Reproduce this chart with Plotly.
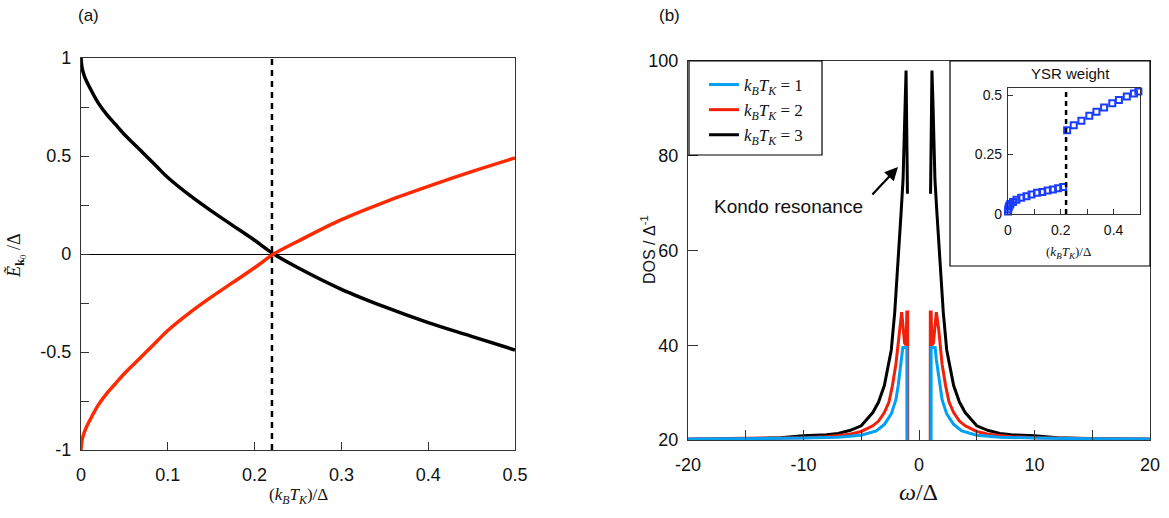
import plotly.graph_objects as go

# ---------- panel (a): YSR bound-state energies vs Kondo temperature ----------
kT_a = [0, 0.001, 0.003, 0.006, 0.01, 0.02, 0.03, 0.04, 0.05, 0.0625, 0.075, 0.0875, 0.1,
        0.125, 0.15, 0.175, 0.2, 0.222, 0.25, 0.3, 0.35, 0.4, 0.45, 0.5]
E_upper = [1.0, 0.955, 0.92, 0.885, 0.85, 0.77, 0.71, 0.66, 0.61, 0.555, 0.50, 0.445, 0.39,
           0.30, 0.22, 0.145, 0.07, 0.0, -0.07, -0.18, -0.27, -0.35, -0.42, -0.49]
E_lower = [-1.0, -0.955, -0.92, -0.885, -0.85, -0.77, -0.71, -0.66, -0.61, -0.555, -0.50, -0.445, -0.39,
           -0.30, -0.22, -0.145, -0.07, 0.0, 0.065, 0.175, 0.265, 0.345, 0.42, 0.49]
kT_crossing = 0.22

a_xticks = [0, 0.1, 0.2, 0.3, 0.4, 0.5]
a_xticklabels = ["0", "0.1", "0.2", "0.3", "0.4", "0.5"]
a_yticks = [-1, -0.75, -0.5, -0.25, 0, 0.25, 0.5, 0.75, 1]
a_yticklabels = ["-1", "", "-0.5", "", "0", "", "0.5", "", "1"]

# ---------- panel (b): DOS for three Kondo temperatures (positive-omega half) ----------
w_kT1 = [0, 1.04, 1.05, 1.2, 1.4, 1.5, 1.8, 2.0, 2.4, 3.0, 3.7, 5.0, 7.0, 10.0, 15.0, 20.0]
dos_kT1 = [0, 0, 39.5, 39.5, 39.5, 37, 31.5, 28.5, 25.5, 23.3, 21.9, 21.0, 20.6, 20.4, 20.25, 20.2]

w_kT2 = [0, 0.97, 0.98, 1.05, 1.12, 1.25, 1.5, 1.7, 2.0, 2.3, 2.6, 3.0, 3.5, 4.0, 5.0, 6.0, 8.0, 10.0, 15.0, 20.0]
dos_kT2 = [0, 0, 47, 47, 40, 40.5, 47, 43.5, 36, 31.5, 28, 25.8, 24, 23, 21.8, 21.2, 20.7, 20.5, 20.3, 20.2]

w_kT3 = [1.0, 1.12, 1.2, 1.38, 1.55, 1.76, 2.1, 2.4, 3.0, 3.5, 4.0, 5.0, 6.0, 7.0, 8.0, 10.0, 12.0, 15.0, 20.0]
dos_kT3 = [72, 98, 92, 75, 68, 59, 47, 39, 31.5, 28, 25.8, 23, 22, 21.4, 21.1, 20.9, 20.5, 20.25, 20.1]

b_xticks = [-20, -15, -10, -5, 0, 5, 10, 15, 20]
b_xticklabels = ["-20", "", "-10", "", "0", "", "10", "", "20"]
b_yticks = [20, 40, 60, 80, 100]
b_yticklabels = ["20", "40", "60", "80", "100"]

# ---------- inset: YSR spectral weight ----------
kT_ysr = [0, 0.001, 0.003, 0.006, 0.009, 0.019, 0.032, 0.05, 0.07, 0.089, 0.11, 0.13, 0.15, 0.17, 0.19, 0.209,
          0.224, 0.249, 0.278, 0.308, 0.335, 0.364, 0.395, 0.42, 0.45, 0.477, 0.494]
weight_ysr = [0.011, 0.02, 0.03, 0.036, 0.042, 0.05, 0.06, 0.068, 0.075, 0.082, 0.089, 0.093, 0.099, 0.103, 0.108, 0.114,
              0.352, 0.373, 0.392, 0.413, 0.43, 0.448, 0.466, 0.48, 0.494, 0.507, 0.515]
ins_xticks = [0, 0.1, 0.2, 0.3, 0.4, 0.5]
ins_xticklabels = ["0", "", "0.2", "", "0.4", ""]
ins_yticks = [0, 0.25, 0.5]
ins_yticklabels = ["0", "0.25", "0.5"]


def mirrored(w, d):
    """Build the full symmetric curve from its positive-omega half."""
    return [-v for v in reversed(w)] + list(w), list(reversed(d)) + list(d)


W, H = 1169, 518


def px(x):
    return x / W


def py(y):
    return (H - y) / H


SANS = "Liberation Sans, Arial, Helvetica, sans-serif"
SERIF = "Liberation Serif, Times New Roman, DejaVu Serif, serif"
AX = "#333333"
RED_A = "#ff2a00"
RED_B = "#f0200a"
BLUE_B = "#00a0f5"
BLUE_INS = "#1a3cff"

fig = go.Figure()

# panel (a)
fig.add_trace(go.Scatter(x=kT_a, y=E_upper, mode="lines", line=dict(color="black", width=3.5, shape="spline", smoothing=1.0),
                         xaxis="x", yaxis="y", showlegend=False))
fig.add_trace(go.Scatter(x=kT_a, y=E_lower, mode="lines", line=dict(color=RED_A, width=3.5, shape="spline", smoothing=1.0),
                         xaxis="x", yaxis="y", showlegend=False))

# panel (b): black drawn first, blue on top
w3n = [-v for v in reversed(w_kT3)]
d3n = list(reversed(dos_kT3))
fig.add_trace(go.Scatter(x=w3n + [None] + w_kT3, y=d3n + [None] + dos_kT3, mode="lines",
                         line=dict(color="black", width=3), xaxis="x2", yaxis="y2",
                         name="<i>k<sub>B</sub>T<sub>K</sub></i> = 3"))
w2, d2 = mirrored(w_kT2, dos_kT2)
fig.add_trace(go.Scatter(x=w2, y=d2, mode="lines", line=dict(color=RED_B, width=3), xaxis="x2", yaxis="y2",
                         name="<i>k<sub>B</sub>T<sub>K</sub></i> = 2"))
w1, d1 = mirrored(w_kT1, dos_kT1)
fig.add_trace(go.Scatter(x=w1, y=d1, mode="lines", line=dict(color=BLUE_B, width=3), xaxis="x2", yaxis="y2",
                         name="<i>k<sub>B</sub>T<sub>K</sub></i> = 1"))

# inset
fig.add_trace(go.Scatter(x=kT_ysr, y=weight_ysr, mode="markers",
                         marker=dict(symbol="square-open", size=6, color=BLUE_INS, line=dict(width=2, color=BLUE_INS)),
                         xaxis="x3", yaxis="y3", showlegend=False, cliponaxis=False))

tickfont = dict(family=SANS, size=18, color="#111")
small_tickfont = dict(family=SANS, size=14, color="#111")
common = dict(showline=True, linecolor=AX, linewidth=1.2, mirror=True, ticks="inside", tickcolor=AX,
              showgrid=False, zeroline=False, automargin=False)

fig.update_layout(
    width=W, height=H, autosize=False,
    margin=dict(l=0, r=0, t=0, b=0, autoexpand=False),
    paper_bgcolor="white", plot_bgcolor="rgba(0,0,0,0)",
    xaxis=dict(domain=[px(81), px(515)], range=[0, 0.5], tickvals=a_xticks, ticktext=a_xticklabels,
               ticklen=8, anchor="y", tickfont=tickfont, ticklabelstandoff=8, **common),
    yaxis=dict(domain=[py(450), py(58)], range=[-1, 1], tickvals=a_yticks, ticktext=a_yticklabels,
               ticklen=8, anchor="x", tickfont=tickfont, ticklabelstandoff=5, **{**common, "zeroline": True},
               zerolinecolor="black", zerolinewidth=1),
    xaxis2=dict(domain=[px(688), px(1150)], range=[-20, 20], tickvals=b_xticks, ticktext=b_xticklabels,
                ticklen=10, anchor="y2", tickfont=tickfont, ticklabelstandoff=8, **common),
    yaxis2=dict(domain=[py(440), py(61)], range=[20, 100], tickvals=b_yticks, ticktext=b_yticklabels,
                ticklen=10, anchor="x2", tickfont=tickfont, ticklabelstandoff=5, **common),
    xaxis3=dict(domain=[px(1008), px(1140)], range=[0, 0.5], tickvals=ins_xticks, ticktext=ins_xticklabels,
                ticklen=5, anchor="y3", tickfont=small_tickfont, ticklabelstandoff=3, **common),
    yaxis3=dict(domain=[py(214), py(88)], range=[0, 0.53], tickvals=ins_yticks, ticktext=ins_yticklabels,
                ticklen=5, anchor="x3", tickfont=small_tickfont, ticklabelstandoff=2, **common),
    legend=dict(x=px(704), y=py(67), xanchor="left", yanchor="top", traceorder="reversed",
                bgcolor="rgba(0,0,0,0)", borderwidth=0,
                font=dict(family=SERIF, size=17, color="#111"), itemwidth=30),
)

# dashed markers of the crossing point
fig.add_shape(type="line", xref="x", yref="y", x0=kT_crossing, x1=kT_crossing, y0=-1, y1=1,
              line=dict(color="black", width=2.5, dash="6px,5px"))
fig.add_shape(type="line", xref="x3", yref="y3", x0=kT_crossing, x1=kT_crossing, y0=0, y1=0.53,
              line=dict(color="black", width=2.5, dash="5px,4px"))
# inset frame and legend frame
fig.add_shape(type="rect", xref="paper", yref="paper", x0=px(950), x1=px(1150), y0=py(266), y1=py(61),
              line=dict(color="black", width=1.2), fillcolor="rgba(0,0,0,0)", layer="above")
fig.add_shape(type="rect", xref="paper", yref="paper", x0=px(689), x1=px(822), y0=py(155), y1=py(61),
              line=dict(color="black", width=1.2), fillcolor="rgba(0,0,0,0)", layer="above")


def label(text, x, y, size, family=SANS, angle=0):
    fig.add_annotation(text=text, x=px(x), y=py(y), xref="paper", yref="paper", showarrow=False,
                       xanchor="center", yanchor="middle",
                       textangle=angle, font=dict(family=family, size=size, color="#111"))


label("(a)", 88, 15, 17)
label("(b)", 669, 15, 17)
label("(<i>k<sub>B</sub>T<sub>K</sub></i>)/Δ", 298, 496, 17, SERIF)
label("<i>Ẽ</i><sub><b>k</b><sub>0</sub></sub> /Δ", 16, 256, 18, SERIF, -90)
label("<i>ω</i>/Δ", 918, 492, 24, SERIF)
label("DOS / Δ<sup>-1</sup>", 648, 250, 16, SANS, -90)
label("YSR weight", 1070, 73, 15)
label("(<i>k<sub>B</sub>T<sub>K</sub></i>)/Δ", 1068, 252, 13, SERIF)

# Kondo resonance label with arrow
fig.add_annotation(text="Kondo resonance", x=-11.3, y=69.2, xref="x2", yref="y2", showarrow=False,
                   font=dict(family=SANS, size=19, color="#111"))
fig.add_annotation(text="", x=-1.82, y=77.6, ax=-4.16, ay=71.5, xref="x2", yref="y2", axref="x2", ayref="y2",
                   showarrow=True, arrowhead=2, arrowsize=1.2, arrowwidth=2.2, arrowcolor="black")

fig.write_html("out.html")
